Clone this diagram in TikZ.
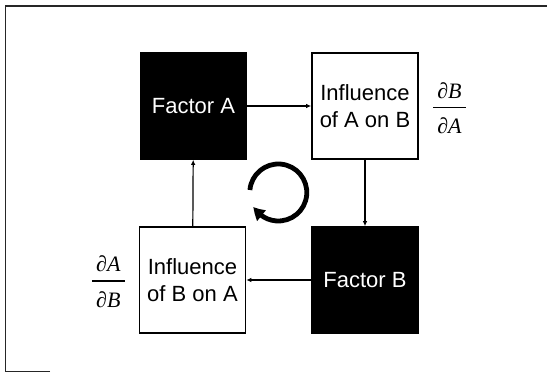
\documentclass[tikz,border=0pt]{standalone}
\usepackage{fontspec}
\setmainfont{Liberation Sans}
\newfontfamily\tms{Liberation Serif}
\usetikzlibrary{arrows.meta,bending}
\newcommand\pdfrac[2]{\vbox{\offinterlineskip
  \hbox to 33pt{\hss\vrule height15pt depth0pt width0pt\smash{#1}\hss}%
  \kern8.75pt\hrule height1.3pt\kern10.65pt
  \hbox to 33pt{\hss\vrule height15pt depth0pt width0pt\smash{#2}\hss}}}
\tikzset{
  boxbase/.style={rectangle, minimum width=106pt, minimum height=106pt, inner sep=0pt, line width=1.6pt, align=center,
    font=\fontsize{22}{26.7}\selectfont},
  factorbox/.style={boxbase, draw=black, fill=black, text=white},
  inflbox/.style={boxbase, draw=black, fill=white, text=black},
  flow/.style={line width=1.2pt, -{Latex[length=5pt,width=4.5pt]}},
  fraclabel/.style={inner sep=0pt, font=\fontsize{22}{26}\selectfont\tms\itshape},
  cycle/.style={line width=4.8pt, -{Triangle[length=12pt,width=13pt,bend]}},
  frame/.style={line width=1.2pt, draw=black!85}
}
\begin{document}
\begin{tikzpicture}[x=1pt,y=1pt]
\useasboundingbox (0,0) rectangle (547,374);
% partial outer frame
\coordinate (f1) at (50,2.5);
\coordinate (f2) at (5.5,2.5);
\coordinate (f3) at (5.5,368);
\coordinate (f4) at (547,368);
\draw[frame] (f1) -- (f2) -- (f3) -- (f4);
% boxes
\node[factorbox] (fa) at (193.5,268) {Factor A};
\node[inflbox] (iab) at (365,268) {Influence\\of A on B};
\node[factorbox] (fb) at (365,94) {Factor B};
\node[inflbox] (iba) at (192.5,94) {Influence\\of B on A};
% connectors
\draw[flow] (fa) -- (iab);
\draw[flow] (iab) -- (fb);
\draw[flow] (fb) -- (iba);
\draw[flow] (iba) -- (fa);
% fractions
\node[fraclabel] (dbda) at (449.5,265.35) {\pdfrac{∂B}{∂A}};
\node[fraclabel] (dadb) at (108.3,92.05) {\pdfrac{∂A}{∂B}};
% cycle arrow
\coordinate (cc) at (278.3,181.5);
\draw[cycle] (cc) ++(175:28.5pt) arc[start angle=175, end angle=-150, radius=28.5pt];
\end{tikzpicture}
\end{document}
